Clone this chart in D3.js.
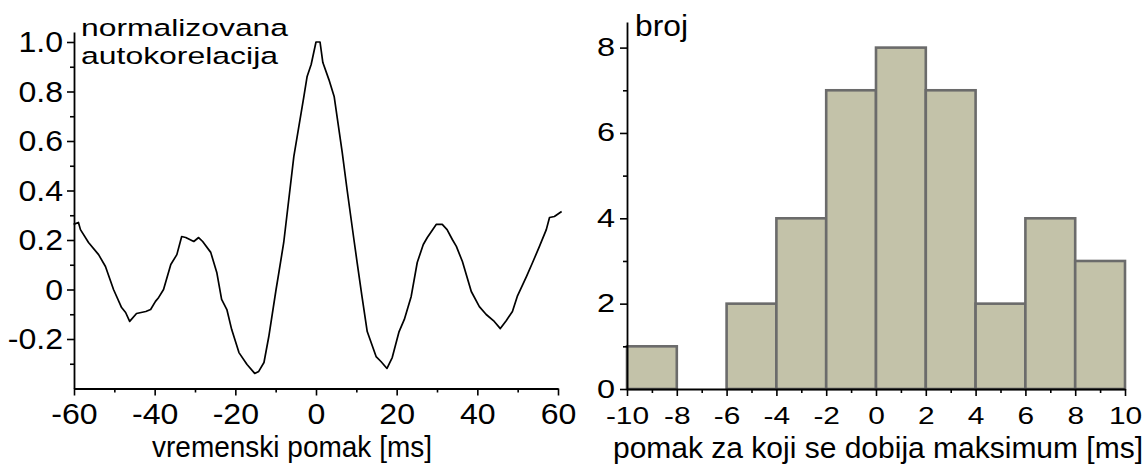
<!DOCTYPE html>
<html><head><meta charset="utf-8">
<script src="https://cdn.jsdelivr.net/npm/d3@7"></script>
<style>
body{margin:0;background:#fff;}
svg{display:block;}
text{font-family:"Liberation Sans",Arial,sans-serif;fill:#000;}
</style></head><body>
<svg id="c" width="1148" height="468"></svg>
<script>
// ---- left panel: normalized autocorrelation ----
const lagMs = [-60.1,-58.9,-58.4,-56.4,-53.9,-52.2,-50.2,-48.2,-47.2,-46.2,-44.5,-42.2,-41.0,-39.8,-39.0,-37.8,-36.0,-34.5,-33.3,-32.3,-30.3,-29.1,-28.1,-26.1,-24.6,-23.4,-22.1,-20.9,-19.1,-17.1,-15.2,-14.2,-12.9,-11.7,-9.9,-9.2,-8.0,-5.5,-3.0,-2.2,-1.2,0,1.0,1.7,3.2,4.5,6.5,7.7,9.4,10.2,11.4,12.7,14.9,16.1,17.6,18.9,20.6,21.9,23.6,25.1,26.6,27.6,29.8,31.3,32.5,33.8,34.8,36.3,38.5,40.5,42.2,44.2,45.7,47.2,48.7,49.9,52.2,53.7,55.4,57.1,57.9,59.1,60.9];
const autocorr = [0.263,0.271,0.242,0.19,0.141,0.093,0.0,-0.073,-0.093,-0.129,-0.097,-0.089,-0.081,-0.048,-0.032,0.0,0.101,0.141,0.214,0.21,0.194,0.21,0.194,0.15,0.069,-0.04,-0.081,-0.162,-0.255,-0.303,-0.339,-0.331,-0.295,-0.19,0.0,0.069,0.19,0.537,0.78,0.861,0.909,1.0,1.0,0.917,0.848,0.78,0.554,0.404,0.202,0.109,-0.028,-0.17,-0.271,-0.291,-0.319,-0.275,-0.17,-0.121,-0.028,0.109,0.182,0.21,0.263,0.263,0.242,0.202,0.174,0.113,-0.008,-0.069,-0.101,-0.129,-0.158,-0.125,-0.089,-0.028,0.053,0.109,0.174,0.242,0.291,0.295,0.315];
const leftYTicks = [-0.2,0,0.2,0.4,0.6,0.8,1.0];
const leftYLabels = ["-0.2","0","0.2","0.4","0.6","0.8","1.0"];
const leftYMinor = [-0.3,-0.1,0.1,0.3,0.5,0.7,0.9];
const leftXTicks = [-60,-40,-20,0,20,40,60];
const leftXMinor = [-50,-30,-10,10,30,50];
const leftTitleLines = ["normalizovana","autokorelacija"];
const leftXTitle = "vremenski pomak [ms]";

// ---- right panel: histogram ----
const binStarts = [-10,-8,-6,-4,-2,0,2,4,6,8];
const binWidth = 2;
const counts = [1,0,2,4,7,8,7,2,4,3];
const rightYTicks = [0,2,4,6,8];
const rightYMinor = [1,3,5,7];
const rightXTicks = [-10,-8,-6,-4,-2,0,2,4,6,8,10];
const rightXMinor = [-9,-7,-5,-3,-1,1,3,5,7,9];
const rightYTitle = "broj";
const rightXTitle = "pomak za koji se dobija maksimum [ms]";

const svg = d3.select("#c");
svg.append("rect").attr("width",1148).attr("height",468).attr("fill","#fff");

const plain = d => String(d);

function styleAxis(g, fs, sx, orient, gap){
  g.select(".domain").attr("stroke","#000").attr("stroke-width",1.8);
  g.selectAll(".tick line").attr("stroke","#000").attr("stroke-width",1.6);
  const t = g.selectAll(".tick text").attr("font-size",fs).attr("fill","#000")
    .attr("transform",`scale(${sx},1)`);
  if(orient==="left") t.attr("x",-gap/sx);
}

// Left scales
const xL = d3.scaleLinear().domain([-60,60]).range([74,558]);
const yL = d3.scaleLinear().domain([-0.4,1.04]).range([388.5,32.1]);

// minor ticks
svg.append("g").attr("transform",`translate(74,0)`)
  .call(d3.axisLeft(yL).tickValues(leftYMinor).tickSize(4).tickFormat(""))
  .call(g=>{g.select(".domain").remove();g.selectAll("line").attr("stroke","#000").attr("stroke-width",1.6);});
svg.append("g").attr("transform",`translate(0,388.5)`)
  .call(d3.axisBottom(xL).tickValues(leftXMinor).tickSize(4).tickFormat(""))
  .call(g=>{g.select(".domain").remove();g.selectAll("line").attr("stroke","#000").attr("stroke-width",1.6);});

const gyL = svg.append("g").attr("transform",`translate(74,0)`)
  .call(d3.axisLeft(yL).tickValues(leftYTicks).tickSize(7).tickSizeOuter(0)
    .tickFormat((d,i)=>leftYLabels[i]));
styleAxis(gyL,30,1.07,"left",11);
const gxL = svg.append("g").attr("transform",`translate(0,388.5)`)
  .call(d3.axisBottom(xL).tickValues(leftXTicks).tickSize(7).tickSizeOuter(0).tickPadding(7)
    .tickFormat(plain));
styleAxis(gxL,30,1.07,"bottom",0);

const lineL = d3.line().x((d,i)=>xL(lagMs[i])).y(d=>yL(d));
svg.append("path").datum(autocorr).attr("d",lineL)
  .attr("fill","none").attr("stroke","#000").attr("stroke-width",1.7).attr("stroke-linejoin","round");

const lt = svg.append("text").attr("font-size",24.5);
lt.append("tspan").attr("x",81).attr("y",35.5)
  .attr("textLength",207).attr("lengthAdjust","spacingAndGlyphs").text(leftTitleLines[0]);
lt.append("tspan").attr("x",81).attr("y",63.5)
  .attr("textLength",197).attr("lengthAdjust","spacingAndGlyphs").text(leftTitleLines[1]);
svg.append("text").attr("x",152).attr("y",457).attr("font-size",30)
  .attr("textLength",280).attr("lengthAdjust","spacingAndGlyphs").text(leftXTitle);

// Right scales
const xR = d3.scaleLinear().domain([-10,10]).range([627,1125]);
const yR = d3.scaleLinear().domain([0,8.6]).range([389,22]);

svg.append("g").selectAll("rect")
  .data(binStarts.map((s,i)=>({s,c:counts[i]})).filter(d=>d.c>0))
  .join("rect")
  .attr("x",d=>xR(d.s)).attr("width",d=>xR(d.s+binWidth)-xR(d.s))
  .attr("y",d=>yR(d.c)).attr("height",d=>yR(0)-yR(d.c))
  .attr("fill","#c3c2a9").attr("stroke","#6b6b6b").attr("stroke-width",2.6);

svg.append("g").attr("transform",`translate(627,0)`)
  .call(d3.axisLeft(yR).tickValues(rightYMinor).tickSize(4).tickFormat(""))
  .call(g=>{g.select(".domain").remove();g.selectAll("line").attr("stroke","#000").attr("stroke-width",1.6);});
svg.append("g").attr("transform",`translate(0,389)`)
  .call(d3.axisBottom(xR).tickValues(rightXMinor).tickSize(4).tickFormat(""))
  .call(g=>{g.select(".domain").remove();g.selectAll("line").attr("stroke","#000").attr("stroke-width",1.6);});

const gyR = svg.append("g").attr("transform",`translate(627,0)`)
  .call(d3.axisLeft(yR).tickValues(rightYTicks).tickSize(7).tickSizeOuter(0).tickFormat(plain));
styleAxis(gyR,25,1.3,"left",12);
const gxR = svg.append("g").attr("transform",`translate(0,389)`)
  .call(d3.axisBottom(xR).tickValues(rightXTicks).tickSize(7).tickSizeOuter(0).tickPadding(12)
    .tickFormat(plain));
styleAxis(gxR,23,1.3,"bottom",0);

svg.append("text").attr("x",635).attr("y",36).attr("font-size",29)
  .attr("textLength",53).attr("lengthAdjust","spacingAndGlyphs").text(rightYTitle);
svg.append("text").attr("x",613).attr("y",458).attr("font-size",30)
  .attr("textLength",530).attr("lengthAdjust","spacingAndGlyphs").text(rightXTitle);
</script>
</body></html>
